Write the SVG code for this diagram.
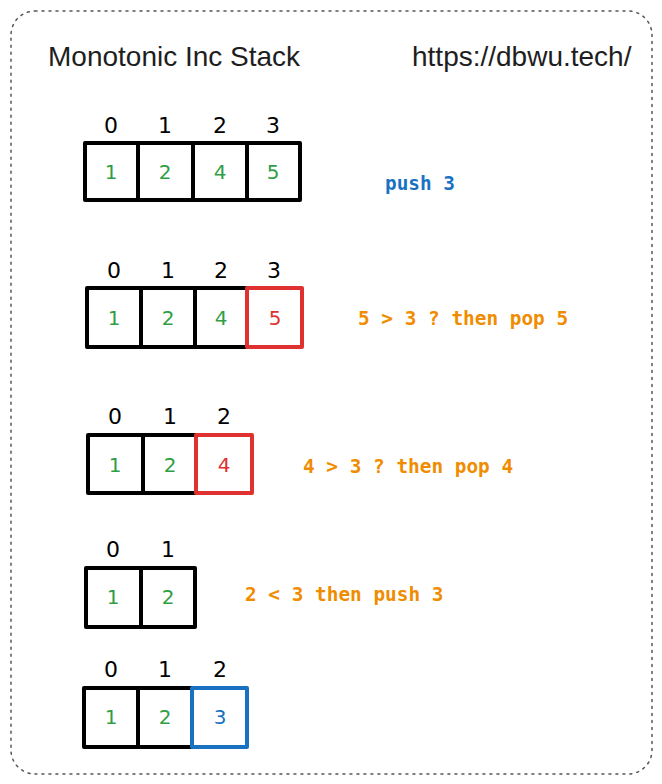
<svg xmlns="http://www.w3.org/2000/svg" width="662" height="784" viewBox="0 0 662 784">
<style>
.frame{fill:none;stroke:#555;stroke-width:1.5;stroke-dasharray:2 5;stroke-linecap:round}
.c{fill:none;stroke:#000;stroke-width:4;stroke-linejoin:round}
.red{stroke:#e03131}
.blue{stroke:#1971c2}
.t{font-family:"Liberation Sans",Arial,sans-serif;font-size:28px;fill:#1e1e1e}
.i{font-family:"DejaVu Sans","Liberation Sans",sans-serif;font-size:22px;fill:#000;text-anchor:middle}
.v{font-family:"DejaVu Sans","Liberation Sans",sans-serif;font-size:20px;text-anchor:middle}
.g{fill:#2f9e44}.r{fill:#e03131}.b{fill:#1971c2}
.m{font-family:"DejaVu Sans Mono","Liberation Mono",monospace;font-size:19.4px;font-weight:bold}
.o{fill:#f08c00}
</style>
<rect class="frame" x="11" y="11" width="641" height="763" rx="24"/>
<g id="title"><text class="t" x="48" y="66">Monotonic Inc Stack</text></g>
<g id="url"><text class="t" x="412" y="66">https://dbwu.tech/</text></g>

<g id="row1">
<text class="i" x="111" y="133">0</text><text class="i" x="165" y="133">1</text><text class="i" x="220" y="133">2</text><text class="i" x="273" y="133">3</text>
<g id="r1c0"><rect class="c" x="85" y="143" width="53" height="57"/><text class="v g" x="111" y="179">1</text></g>
<g id="r1c1"><rect class="c" x="138" y="143" width="55" height="57"/><text class="v g" x="165" y="179">2</text></g>
<g id="r1c2"><rect class="c" x="193" y="143" width="54" height="57"/><text class="v g" x="220" y="179">4</text></g>
<g id="r1c3"><rect class="c" x="247" y="143" width="53" height="57"/><text class="v g" x="273" y="179">5</text></g>
</g>
<g id="note1"><text class="m b" x="385" y="190">push 3</text></g>

<g id="row2">
<text class="i" x="114" y="278">0</text><text class="i" x="168" y="278">1</text><text class="i" x="221" y="278">2</text><text class="i" x="274" y="278">3</text>
<g id="r2c0"><rect class="c" x="87" y="288" width="54" height="59"/><text class="v g" x="114" y="325">1</text></g>
<g id="r2c1"><rect class="c" x="141" y="288" width="54" height="59"/><text class="v g" x="168" y="325">2</text></g>
<g id="r2c2"><rect class="c" x="195" y="288" width="52" height="59"/><text class="v g" x="221" y="325">4</text></g>
<g id="r2c3"><rect class="c red" x="247" y="288" width="55" height="59"/><text class="v r" x="275" y="325">5</text></g>
</g>
<g id="note2"><text class="m o" x="358" y="325">5 &gt; 3 ? then pop 5</text></g>

<g id="row3">
<text class="i" x="115" y="424">0</text><text class="i" x="170" y="424">1</text><text class="i" x="224" y="424">2</text>
<g id="r3c0"><rect class="c" x="88" y="435" width="55" height="58"/><text class="v g" x="115" y="472">1</text></g>
<g id="r3c1"><rect class="c" x="143" y="435" width="53" height="58"/><text class="v g" x="170" y="472">2</text></g>
<g id="r3c2"><rect class="c red" x="196" y="435" width="56" height="58"/><text class="v r" x="224" y="472">4</text></g>
</g>
<g id="note3"><text class="m o" x="303" y="473">4 &gt; 3 ? then pop 4</text></g>

<g id="row4">
<text class="i" x="113" y="557">0</text><text class="i" x="168" y="557">1</text>
<g id="r4c0"><rect class="c" x="86" y="568" width="55" height="59"/><text class="v g" x="113" y="604">1</text></g>
<g id="r4c1"><rect class="c" x="141" y="568" width="54" height="59"/><text class="v g" x="168" y="604">2</text></g>
</g>
<g id="note4"><text class="m o" x="245" y="601">2 &lt; 3 then push 3</text></g>

<g id="row5">
<text class="i" x="111" y="677">0</text><text class="i" x="165" y="677">1</text><text class="i" x="220" y="677">2</text>
<g id="r5c0"><rect class="c" x="84" y="688" width="54" height="59"/><text class="v g" x="111" y="724">1</text></g>
<g id="r5c1"><rect class="c" x="138" y="688" width="54" height="59"/><text class="v g" x="165" y="724">2</text></g>
<g id="r5c2"><rect class="c blue" x="192" y="688" width="55" height="59"/><text class="v b" x="220" y="724">3</text></g>
</g>
<g id="connectors"/>
</svg>
